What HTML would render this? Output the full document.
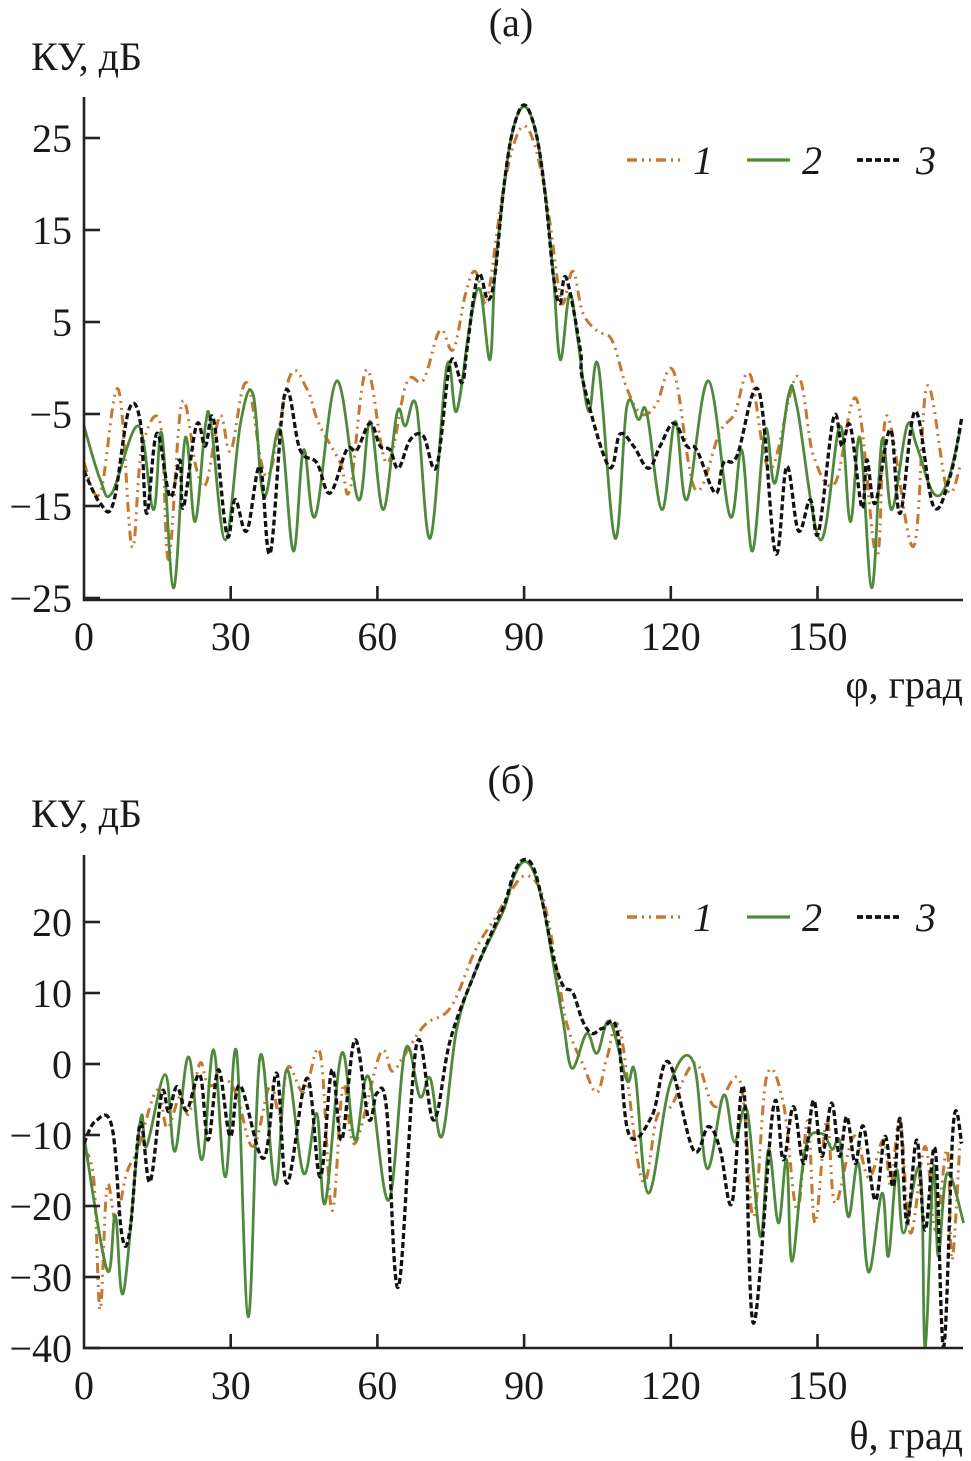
<!DOCTYPE html>
<html><head><meta charset="utf-8"><style>
html,body{margin:0;padding:0;background:#fff;}
svg{display:block;}
text{font-family:"Liberation Serif",serif;fill:#1a1a1a;}
</style></head><body>
<svg id="chart" width="971" height="1461" viewBox="0 0 971 1461" xmlns="http://www.w3.org/2000/svg"></svg>
<script>
// ---- data (deg, dB) ----
const xTicks = [0, 30, 60, 90, 120, 150];
const yTicksA = [25, 15, 5, -5, -15, -25];
const yTicksB = [20, 10, 0, -10, -20, -30, -40];
const yTickLabelsA = ["25", "15", "5", "\u22125", "\u221215", "\u221225"];
const yTickLabelsB = ["20", "10", "0", "\u221210", "\u221220", "\u221230", "\u221240"];
const seriesNames = ["1", "2", "3"];

const a1 = [[0,-10.3],[3.3,-13.6],[7,-2.3],[9.8,-19.4],[11.8,-8.9],[15.6,-6],[17.3,-20.8],[20,-3.8],[23,-11],[25,-12.5],[27.8,-5.2],[30,-9],[33.3,-1.6],[37.4,-11.8],[42.1,-0.9],[45.6,-2.3],[48,-6],[52.4,-10.3],[54.4,-13.2],[57.8,-0.2],[61.9,-10.3],[66,-1.6],[69.4,-1.3],[72.8,4.1],[75.5,2],[78,8],[80,10.5],[82,7],[83,9],[84.5,15],[86,20],[88,24.5],[90,26.3],[92,24.5],[94,20],[95.5,15],[97,9],[98,7],[100,10.5],[102,6],[105,4],[108,3],[111,-2.2],[114,-5],[117,-4],[120.6,-0.4],[125,-13.2],[130,-7],[133,-5],[136.2,-0.7],[140.3,-11],[145.8,-0.9],[149.2,-9.6],[153.6,-12.5],[158,-3.4],[162.1,-20.5],[164.2,-5.2],[169.6,-19.4],[172.4,-2],[176.5,-13.2],[179.2,-10.7]];
const a2 = [[0,-6.3],[3.3,-12.1],[5.7,-13.6],[11.1,-6.3],[14.2,-15.4],[15.9,-7.1],[18.3,-23.9],[20.7,-7.6],[22.7,-16.7],[24.8,-6.3],[26,-6.2],[28.9,-18.7],[32,-6],[34.6,-2.9],[36.8,-14],[40.1,-6.7],[42.8,-19.9],[44.9,-8.9],[47.3,-16.1],[51.7,-1.4],[56.1,-14.3],[58.5,-5.8],[61.2,-15.4],[64,-4.9],[65.7,-6.3],[68,-4.2],[70.8,-18.5],[74.2,0.2],[76.2,-4.7],[79,5],[81,8.5],[83,0.9],[84,10],[85.5,18],[87,24],[88.5,27.3],[90,28.4],[91.5,27.3],[93,24],[94.5,18],[96,10],[97.4,0.9],[99.3,8],[101,3],[103.2,-4.7],[105.2,0.2],[108.6,-18.5],[111,-4.2],[113.4,-5.6],[115.1,-4.9],[118.2,-15.4],[120.9,-5.8],[123.3,-14.3],[127.7,-1.4],[132.1,-16.1],[134.5,-8.9],[136.7,-19.9],[139.3,-6.7],[141.3,-12.5],[144.1,-2.9],[145.8,-4.2],[150.6,-18.7],[154.6,-6.3],[156.7,-16.7],[158.7,-7.6],[161.1,-23.9],[163.2,-7.8],[165.2,-15.4],[168.3,-6.3],[170.3,-8.5],[173.7,-13.6],[176.5,-12.5],[179.2,-6.7]];
const a3 = [[0,-11.2],[3.3,-14.7],[6,-14.7],[9.1,-4.7],[11.5,-5.8],[12.8,-15.8],[14.9,-7.1],[17.6,-14],[19.6,-10],[20.3,-15.2],[23,-6.2],[24.8,-8.5],[26.5,-5.6],[29.2,-18.1],[30.9,-14.3],[33.3,-17.7],[36,-10.7],[38.1,-20.1],[41.1,-2.7],[44.2,-8.9],[47.6,-10.3],[50.3,-13.6],[53.7,-8.9],[55.8,-8.9],[58.5,-6],[60.6,-8.5],[62.6,-8.9],[64.3,-10.9],[66.7,-7.8],[69.4,-7.4],[72.1,-10.7],[74.9,0.6],[77.3,-1.6],[78.3,2],[80.6,10.1],[82.6,7.4],[84,10],[85.5,18],[87,24],[88.5,27.3],[90,28.6],[91.5,27.3],[93,24],[94.5,18],[96,10],[97.3,7],[98.6,9.8],[101.5,2],[102.1,-1.6],[107.3,-10.7],[109.6,-7.2],[112.4,-8.5],[115.4,-10.9],[117.8,-8.5],[120.6,-6],[123.3,-8.5],[125.3,-8.9],[129.1,-13.6],[130.8,-10.3],[133.5,-9.6],[138,-2.5],[141.4,-20.1],[143.7,-10.7],[146.1,-17.7],[148.5,-14.3],[150.2,-17.9],[153.3,-5.4],[155,-8.5],[156.7,-6.3],[159.1,-15.2],[160.1,-10],[161.8,-14.7],[164.9,-6.7],[166.9,-15.8],[170,-4.7],[173.7,-15],[177.1,-11.8],[179.5,-5.4]];

const b1 = [[0,-12],[2,-16.3],[3.3,-34.6],[4.7,-17.3],[6.5,-22],[8.7,-15.4],[11,-12],[14.9,-3.7],[17,-9],[19.6,-4.6],[21.5,-7],[23.7,0.1],[25.5,-3],[29.2,-2.3],[31.5,-5],[34.6,-11.6],[38,-3],[40,-7],[41.8,-0.4],[45,-4],[48.3,1.5],[50.7,-20.6],[53,-3],[55.4,-11.2],[60.6,1.5],[63,-1],[65.3,1],[69.7,5.5],[75,8],[80,16],[84,20.5],[87,24],[90,26.5],[93,25],[95,20],[97,12],[99,5],[102,0],[104.9,-4],[107,1],[109.6,4.8],[114.1,-16.3],[117.2,-7.4],[120,-6],[125,0.1],[129,-6],[134.2,-2.5],[136.9,-21.5],[139.6,-1.8],[143,-5.5],[145.8,-20.6],[148,-8],[149.5,-22.4],[151.9,-7.9],[153.6,-19.6],[157.4,-10.2],[160.5,-16],[163.5,-10.7],[165,-17],[166.9,-7.9],[169,-23.8],[172,-11.6],[174.1,-23.4],[176.5,-12.1],[177.5,-27.6],[179.2,-10.2]];
const b2 = [[0,-10.2],[4.7,-29],[6.4,-21.3],[8.1,-32.1],[11.5,-8.1],[12.8,-11.6],[16.6,-1.5],[18.6,-12.3],[21.4,1],[24.1,-13.5],[26.5,2],[28.9,-15.9],[31.2,1.7],[33.6,-35.6],[36,1],[39.1,-17],[41.5,-0.8],[44.9,-15.4],[47.6,-7],[49.3,-19.6],[52.7,1.5],[55.4,-10.7],[58.2,-1.8],[62.3,-19.2],[65.7,2],[68.7,-4.6],[70.8,-2],[73.2,-10.2],[76.2,4.8],[80,13],[84,19],[86,22],[88,26.5],[90,28.5],[92,27],[94,22],[96,14],[98,6],[99.8,-0.6],[102.8,4.3],[104.9,1.5],[107.5,6],[111,-2.3],[112.7,-1.3],[115.4,-18.2],[119.9,-2.7],[124.6,0.3],[127.4,-14.7],[130.8,-4.4],[133,-11],[135.6,-6.5],[138.3,-24.3],[140,-12],[142,-22.4],[143.7,-13.5],[144.8,-27.8],[147.5,-12],[150.9,-9.8],[153,-12],[154.6,-11],[156.3,-21.5],[158.4,-14],[160.4,-29.3],[163.2,-18.2],[164.5,-27.1],[166.2,-14.9],[167.6,-23.8],[171,-14.9],[172,-39.8],[173.7,-14.5],[174.7,-27.1],[176.5,-15.4],[179.9,-22.4]];
const b3 = [[0,-11.2],[2.3,-8.1],[5.7,-8.8],[7.7,-23.9],[9.4,-23.4],[11.5,-8.4],[13.5,-16.6],[15.9,-4.1],[17.3,-6.7],[19,-3.2],[21,-6.5],[23.7,-1.5],[25.4,-10.7],[27.5,-0.8],[29.9,-10.2],[31.9,-3],[36.7,-13.3],[39.4,-1.3],[41.5,-16.8],[45.6,-2],[48.3,-15.9],[50.7,-0.8],[52.7,-10.7],[55.4,3.4],[58.2,-7.7],[59.9,-4.1],[61.9,-6.5],[64.3,-31.4],[68,2.7],[71.5,-7.9],[74.9,3.4],[80,13],[84,19.5],[86,22.5],[88,27],[90,28.8],[92,27.5],[94,22],[96,15],[98,11],[100,10],[102,6],[103.9,4.3],[106,5],[109,4.8],[111.4,-9.8],[116.1,-7.4],[119.5,0.3],[124.6,-12.1],[127.7,-8.8],[130.1,-12.1],[132.5,-19.6],[134.9,-3.4],[136.9,-36.5],[141,-6],[143,-13.5],[145.1,-6],[147.2,-14],[149.2,-5.1],[150.9,-13],[152.9,-5.5],[154.5,-13],[156,-7.4],[157.7,-14],[159.4,-8.8],[161.8,-19.2],[163.8,-10.2],[165.5,-17.3],[166.9,-7.7],[168.3,-22.4],[170.3,-10.7],[172,-23.4],[174.1,-12.1],[175.8,-39.8],[177.8,-8.4],[179.5,-11.2]];

// ---- drawing ----
const NS = "http://www.w3.org/2000/svg";
const svg = document.getElementById("chart");
function mk(tag, attrs, parent) {
  const e = document.createElementNS(NS, tag);
  for (const k in attrs) e.setAttribute(k, attrs[k]);
  (parent || svg).appendChild(e);
  return e;
}
const styles = [
  {stroke:"#c8782e", dash:"10,5,2,5,2,5", w:3},
  {stroke:"#4f8a3c", dash:"", w:2.8},
  {stroke:"#111111", dash:"6,3", w:3.3}
];
function smoothPath(pts) {
  let d = "M" + pts[0][0].toFixed(1) + "," + pts[0][1].toFixed(1);
  for (let i = 0; i < pts.length - 1; i++) {
    const p0 = pts[Math.max(0, i - 1)], p1 = pts[i], p2 = pts[i + 1], p3 = pts[Math.min(pts.length - 1, i + 2)];
    const t = 0.18;
    const c1x = p1[0] + (p2[0] - p0[0]) * t, c1y = p1[1] + (p2[1] - p0[1]) * t;
    const c2x = p2[0] - (p3[0] - p1[0]) * t, c2y = p2[1] - (p3[1] - p1[1]) * t;
    d += "C" + c1x.toFixed(1) + "," + c1y.toFixed(1) + " " + c2x.toFixed(1) + "," + c2y.toFixed(1) + " " + p2[0].toFixed(1) + "," + p2[1].toFixed(1);
  }
  return d;
}

function panel(cfg) {
  const g = mk("g", {});
  
  
  const X = d => cfg.x0 + d * cfg.xs;
  const Y = v => cfg.yZero - (v - cfg.vRef) * cfg.ys;
  const FS = 40;
  const t = mk("text", {x: 511, y: cfg.titleY, "font-size": FS, "text-anchor": "middle"}, g);
  t.textContent = cfg.title;
  
  
  const yl = mk("text", {x: 31, y: cfg.yLabelY, "font-size": FS}, g);
  yl.textContent = "КУ, дБ";
  
  
  const xl = mk("text", {x: 963, y: cfg.xLabelY, "font-size": FS, "text-anchor": "end"}, g);
  xl.textContent = cfg.xTitle;
  
  
  cfg.series.forEach((s, i) => {
    const pts = s.map(p => [X(p[0]), Y(p[1])]);
    const p = mk("path", {d: smoothPath(pts), fill: "none", stroke: styles[i].stroke, "stroke-width": styles[i].w,
      "stroke-dasharray": styles[i].dash, "stroke-linejoin": "round"}, g);
    
    
  });
  const ax = mk("path", {d: `M${cfg.x0},${cfg.axTop}V${cfg.axBot}H963`, fill: "none", stroke: "#222", "stroke-width": 2.6}, g);
  
  
  cfg.yTicks.forEach((v, i) => {
    const tk = mk("line", {x1: cfg.x0, x2: cfg.x0 + 16, y1: Y(v), y2: Y(v), stroke: "#222", "stroke-width": 2.6}, g);
    
    
    const lb = mk("text", {x: 72, y: Y(v) + 14, "font-size": FS, "text-anchor": "end"}, g);
    lb.textContent = cfg.yLabels[i];
    
    
  });
  xTicks.forEach(v => {
    if (v > 0) {
      const tk = mk("line", {x1: X(v), x2: X(v), y1: cfg.axBot, y2: cfg.axBot - 14, stroke: "#222", "stroke-width": 2.6}, g);
      
      
    }
    const lb = mk("text", {x: X(v), y: cfg.xTickY, "font-size": FS, "text-anchor": "middle"}, g);
    lb.textContent = String(v);
    
    
  });
  const lx = [[627, 683, 703], [747, 790, 812], [857, 900, 926]];
  lx.forEach((q, i) => {
    const ln = mk("line", {x1: q[0], x2: q[1], y1: cfg.legY, y2: cfg.legY, stroke: styles[i].stroke,
      "stroke-width": styles[i].w + 0.4, "stroke-dasharray": styles[i].dash}, g);
    
    
    const lt = mk("text", {x: q[2], y: cfg.legY + 14, "font-size": FS, "font-style": "italic", "text-anchor": "middle"}, g);
    lt.textContent = seriesNames[i];
    
    
  });
}

panel({name: "panel-a", title: "(a)", titleY: 36, yLabelY: 70, xLabelY: 698, xTitle: "φ, град",
  x0: 84, xs: 4.89, yZero: 138, vRef: 25, ys: 9.2, axTop: 97, axBot: 600, xTickY: 650,
  yTicks: yTicksA, yLabels: yTickLabelsA, legY: 160, series: [a1, a2, a3]});
panel({name: "panel-b", title: "(б)", titleY: 793, yLabelY: 827, xLabelY: 1449, xTitle: "θ, град",
  x0: 84, xs: 4.89, yZero: 1064, vRef: 0, ys: 7.1, axTop: 855, axBot: 1348, xTickY: 1399,
  yTicks: yTicksB, yLabels: yTickLabelsB, legY: 917, series: [b1, b2, b3]});
</script>
</body></html>
